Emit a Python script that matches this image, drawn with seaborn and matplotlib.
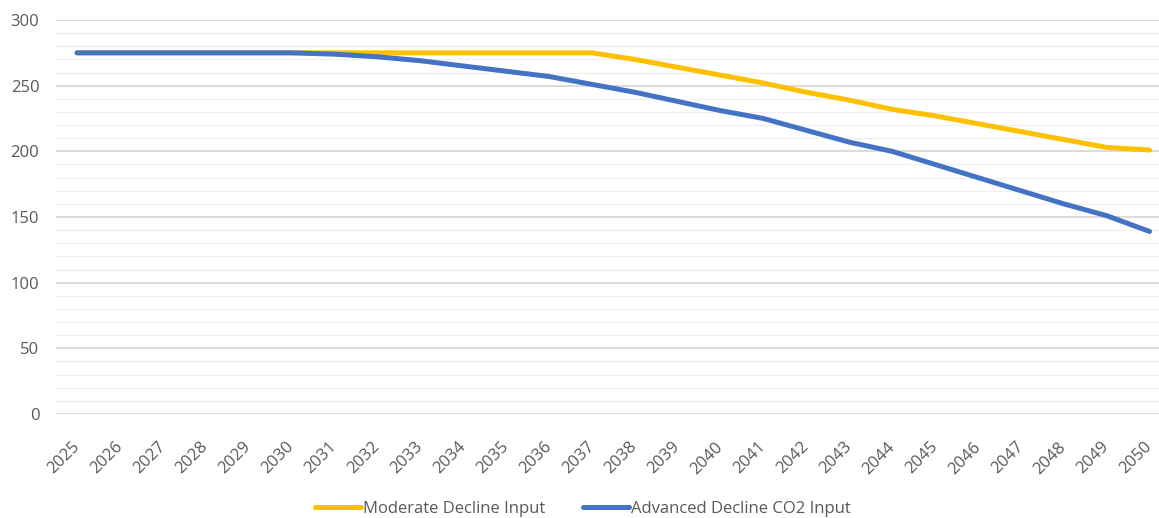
import matplotlib
matplotlib.use("Agg")
import matplotlib.pyplot as plt
from matplotlib.ticker import MultipleLocator
import pandas as pd
import seaborn as sns

years = list(range(2025, 2051))
moderate = [275, 275, 275, 275, 275, 275, 275, 275, 275, 275, 275, 275, 275,
            270, 264, 258, 252, 245, 239, 232, 227, 221, 215, 209, 203, 201]
advanced = [275, 275, 275, 275, 275, 275, 274, 272, 269, 265, 261, 257, 251,
            245, 238, 231, 225, 216, 207, 200, 190, 180, 170, 160, 151, 139]
series_names = ["Moderate Decline Input", "Advanced Decline CO2 Input"]
series_colors = ["#FFC000", "#4472C4"]

df = pd.DataFrame({
    "Year": years * 2,
    "Value": moderate + advanced,
    "Series": [series_names[0]] * len(years) + [series_names[1]] * len(years),
})

sns.set_theme(style="white")
plt.rcParams["font.family"] = ["Open Sans", "DejaVu Sans"]

fig = plt.figure(figsize=(11.59, 5.18), dpi=100)
ax = fig.add_axes([56 / 1159, 1 - 414 / 518, 1 - 56 / 1159, 394 / 518])

sns.lineplot(data=df, x="Year", y="Value", hue="Series", hue_order=series_names,
             palette=series_colors, linewidth=3.6, legend=False, ax=ax,
             solid_capstyle="round", zorder=3)

ax.set_xlim(2024.51, 2050.22)
ax.set_ylim(0, 300)
ax.set_xlabel("")
ax.set_ylabel("")

ax.yaxis.set_major_locator(MultipleLocator(50))
ax.yaxis.set_minor_locator(MultipleLocator(10))
ax.grid(axis="y", which="major", color="#d9d9d9", linewidth=1.3, zorder=0)
ax.grid(axis="y", which="minor", color="#f0f0f0", linewidth=1.0, zorder=0)
ax.grid(axis="x", visible=False)
for s in ax.spines.values():
    s.set_visible(False)

ax.set_xticks(years)
ax.set_xticklabels([str(y) for y in years], rotation=45, ha="right",
                   va="center", rotation_mode="anchor")
ax.tick_params(axis="x", length=0, pad=22, labelsize=12, labelcolor="#595959")
ax.tick_params(axis="y", which="both", length=0, pad=12, labelsize=12,
               labelcolor="#595959")

handles = ax.lines[:2]
ax.legend(handles, series_names, loc="center", bbox_to_anchor=(583 / 1159, 1 - 509 / 518),
          bbox_transform=fig.transFigure, ncol=2, frameon=False, fontsize=12,
          handlelength=2.75, handletextpad=0.1, columnspacing=2.3,
          labelcolor="#595959")

fig.savefig("out.png", dpi=100, facecolor="white")
